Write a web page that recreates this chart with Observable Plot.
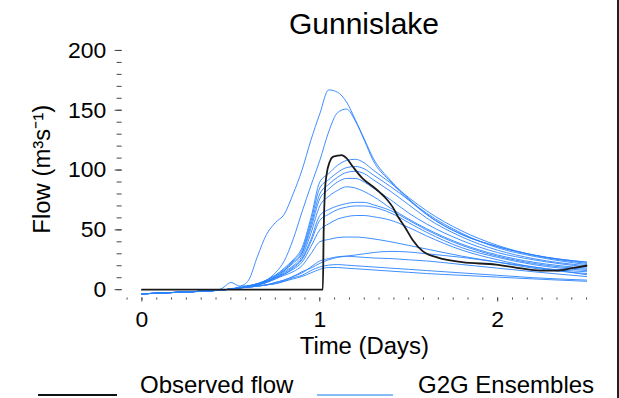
<!DOCTYPE html>
<html>
<head>
<meta charset="utf-8">
<script src="https://cdn.jsdelivr.net/npm/d3@7"></script>
<script src="https://cdn.jsdelivr.net/npm/@observablehq/plot@0.6"></script>
<style>
  body { margin: 0; background: #fff; }
  #fig {
    position: relative; width: 617px; height: 398px; overflow: hidden;
    border-right: 2px solid #222; background: #fff;
    font-family: "Liberation Sans", Arial, sans-serif; color: #000;
  }
  #title {
    position: absolute; left: 164px; top: 9px; width: 400px;
    text-align: center; font-size: 30px; line-height: 30px;
  }
  #plot { position: absolute; left: 0; top: 36px; }
  .key-line { position: absolute; height: 2px; top: 394px; }
  .key-text { position: absolute; top: 373px; font-size: 24px; line-height: 24px; white-space: nowrap; }
</style>
</head>
<body>
<div id="fig">
  <div id="title"></div>
  <div id="plot"></div>
  <div class="key-line" style="left:38px;width:79px;background:#111"></div>
  <div class="key-text" id="key-obs" style="left:140px"></div>
  <div class="key-line" style="left:317px;width:76px;background:#86bdf5"></div>
  <div class="key-text" id="key-g2g" style="left:418px"></div>
</div>
<script>
// Gauge: Gunnislake. Flow in m³/s against time in days.
const title = "Gunnislake";
const xLabel = "Time (Days)";
const yLabel = "Flow (m³s⁻¹)";
const legendLabels = ["Observed flow", "G2G Ensembles"];
const yTickValues = [0, 50, 100, 150, 200];
const xTickValues = [0, 1, 2];

// Observed flow (gauge record starts just after day 1)
const obsTime = [0, 0.5, 1.0, 1.017, 1.022, 1.03, 1.038, 1.056, 1.073, 1.10, 1.122, 1.15, 1.185, 1.24, 1.30, 1.34, 1.38, 1.41, 1.44, 1.48, 1.52, 1.58, 1.66, 1.80, 1.99, 2.12, 2.24, 2.33, 2.42, 2.5];
const obsFlow = [0, 0, 0, 0, 50, 85, 96, 107, 111, 112, 112.5, 110, 103, 93, 86, 81, 75, 69, 61, 52, 42, 32, 27, 23, 21, 18, 16, 16, 18, 20];

// G2G ensemble members, all sampled at the same times
const g2gTime = [0, 0.2, 0.4, 0.45, 0.5, 0.55, 0.6, 0.65, 0.7, 0.75, 0.8, 0.85, 0.9, 0.95, 1.0, 1.05, 1.1, 1.15, 1.2, 1.25, 1.3, 1.4, 1.5, 1.6, 1.8, 2.0, 2.2, 2.5];
const g2gMembers = [
  [-3.5, -2.2, -0.8, -0.2, 0.8, 2.5, 8, 28, 46, 56, 63, 80, 100, 125, 147, 167, 165, 157, 142, 126, 110, 91, 76, 63, 46, 36, 29, 23],
  [-3.5, -2.2, -0.8, -0.3, 0.5, 1.5, 3, 5, 8, 14, 24, 42, 65, 87, 108, 132, 148, 151, 141, 125, 108, 90, 75, 63, 46, 36, 29, 23],
  [-3.5, -2.2, -0.8, 1, 6, 3, 3.5, 5, 8, 12, 18, 25, 35, 60, 90, 97, 104, 108, 109, 106, 100, 89, 77, 66, 49, 37, 29, 22],
  [-3.5, -2.2, -0.8, -0.3, 0.5, 1.5, 3, 5, 8, 12, 17, 24, 33, 57, 85, 92, 98, 102, 103, 101, 96, 86, 75, 64, 47, 35, 28, 21],
  [-3.5, -2.2, -0.8, -0.3, 0.5, 1.5, 3, 5, 7, 11, 16, 23, 31, 54, 80, 88, 94, 98, 99, 97, 92, 82, 71, 60, 44, 33, 26, 20],
  [-3.5, -2.2, -0.8, -0.3, 0.5, 1.5, 3, 5, 7, 11, 16, 22, 30, 51, 76, 84, 90, 93, 93, 90, 85, 75, 64, 55, 41, 31, 25, 19],
  [-3.5, -2.2, -0.8, -0.3, 0.5, 1.5, 3, 4, 7, 10, 15, 20, 28, 47, 70, 78, 83, 86, 85, 82, 78, 68, 59, 51, 38, 29, 23, 18],
  [-3.5, -2.2, -0.8, -0.3, 0.5, 1.5, 3, 4, 7, 10, 14, 19, 26, 42, 62, 67, 70, 72, 73, 73, 71, 66, 58, 50, 37, 28, 22, 17],
  [-3.5, -2.2, -0.8, -0.3, 0.5, 1.5, 3, 4, 6, 10, 13, 18, 25, 40, 58, 63, 67, 69, 70, 70, 69, 64, 56, 48, 35, 27, 21, 16],
  [-3.5, -2.2, -0.8, -0.3, 0.5, 1.5, 3, 4, 6, 9, 13, 17, 23, 36, 50, 55, 59, 61, 62, 62, 61, 58, 52, 45, 33, 25, 19, 15],
  [-3.5, -2.2, -0.8, -0.3, 0.5, 1.5, 2.5, 4, 6, 9, 12, 15, 20, 30, 40, 42, 43.5, 44, 44, 43.5, 42.5, 40, 37, 34, 28, 23, 18, 13.5],
  [-3.5, -2.2, -0.8, -0.3, 0.5, 1.5, 2.5, 3, 4, 6, 8, 11, 15, 18, 22, 25, 27, 28, 29, 30, 31, 32, 31.5, 30, 27, 23, 19, 12.5],
  [-3.5, -2.2, -0.8, -0.3, 0.5, 1.5, 2, 3, 4, 6, 8, 11, 14, 19, 24, 26, 27.5, 28, 27.5, 27, 26.5, 26, 25, 24, 21, 18, 15, 11],
  [-3.5, -2.2, -0.8, -0.3, 0.5, 1.5, 2, 3, 4, 5, 7, 10, 12, 16, 19, 20.5, 21, 20.5, 20, 19.5, 19, 18, 17, 16, 14, 12, 10, 8],
  [-3.5, -2.2, -0.8, -0.3, 0.5, 1.5, 2, 3, 4, 5, 7, 9, 11, 14, 17, 18.5, 18.5, 18, 17.5, 17, 16.5, 15.5, 14.5, 13.5, 12, 10.5, 9, 7]
];

const ensembleRows = g2gMembers.flatMap((vals, m) =>
  vals.map((v, i) => ({member: m, t: g2gTime[i], flow: v}))
);
const observedRows = obsTime.map((t, i) => ({t, flow: obsFlow[i]}));

// two-hourly minor ticks on the time axis, 10-unit minor ticks on flow
const xMinor = d3.range(-1, 31).map(i => i / 12);
const yMinor = d3.range(0, 201, 10);

document.getElementById("title").textContent = title;
document.getElementById("key-obs").textContent = legendLabels[0];
document.getElementById("key-g2g").textContent = legendLabels[1];

const chart = Plot.plot({
  width: 619,
  height: 336,
  marginLeft: 127,
  marginRight: 31,
  marginTop: 14,
  marginBottom: 73.6,
  x: {domain: [-1 / 12, 2.5]},
  y: {domain: [-7, 200]},
  style: {fontFamily: "'Liberation Sans', Arial, sans-serif", color: "#000", background: "transparent", overflow: "visible"},
  marks: [
    Plot.axisY({ticks: yMinor, tickSize: 5, dx: -5, tickFormat: () => "", label: null, stroke: "#444"}),
    Plot.axisY({ticks: yTickValues, tickSize: 7, dx: -5, tickPadding: 9, fontSize: 23, label: null, stroke: "#444"}),
    Plot.axisX({ticks: xMinor, tickSize: 2, tickFormat: () => "", label: null, stroke: "#444"}),
    Plot.axisX({ticks: xTickValues, tickSize: 4, tickPadding: 9, tickFormat: d3.format("d"), fontSize: 23, label: null, stroke: "#444"}),
    Plot.line(ensembleRows, {x: "t", y: "flow", z: "member", stroke: "#2a82ff", strokeWidth: 1, strokeOpacity: 0.9, curve: "monotone-x"}),
    Plot.line(observedRows, {x: "t", y: "flow", stroke: "#1a1a1a", strokeWidth: 1.8, curve: "monotone-x"}),
    Plot.text([yLabel], {frameAnchor: "left", textAnchor: "middle", lineAnchor: "middle", rotate: -90, dx: -85, dy: -5, fontSize: 24}),
    Plot.text([xLabel], {frameAnchor: "bottom", textAnchor: "middle", lineAnchor: "middle", dx: 7.5, dy: 48, fontSize: 24})
  ]
});
document.getElementById("plot").append(chart);
</script>
</body>
</html>
